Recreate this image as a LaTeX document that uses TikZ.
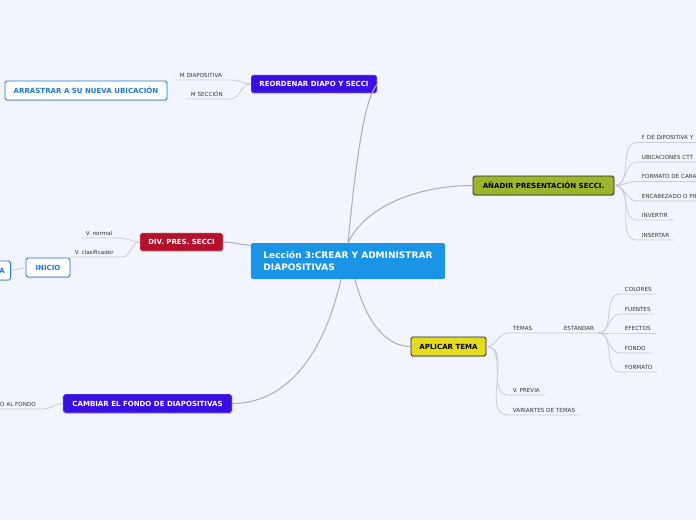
\documentclass[tikz,border=0pt]{standalone}
\usepackage{fontspec}
\setmainfont{DejaVu Sans}
\usetikzlibrary{shadows}
\definecolor{mmback}{HTML}{F2F5FD}
\definecolor{mmroot}{HTML}{1A95E6}
\definecolor{mmviolet}{HTML}{3A10E2}
\definecolor{mmred}{HTML}{B5102C}
\definecolor{mmolive}{HTML}{9DB52C}
\definecolor{mmyellow}{HTML}{E3DB1F}
\definecolor{mmblue}{HTML}{1F78DC}
\definecolor{mmline}{HTML}{ADB0BD}
\definecolor{mmsub}{HTML}{C9CCD6}
\tikzset{
  root/.style      ={fill=mmroot, text=white, rounded corners=2pt, align=left,
                     minimum width=5.82cm, minimum height=1.08cm, inner sep=0pt,
                     font=\fontsize{7.7pt}{10pt}\selectfont\bfseries},
  topic/.style     ={rounded corners=1.5pt, minimum height=0.55cm, inner sep=0pt,
                     font=\fontsize{6pt}{7pt}\selectfont\bfseries,
                     drop shadow={shadow xshift=0.3pt, shadow yshift=-0.9pt, opacity=0.3}},
  darktopic/.style ={topic, fill=#1, draw=black!12, text=white},
  lighttopic/.style={topic, fill=#1, draw=black!85, line width=0.7pt, text=black},
  outtopic/.style  ={topic, fill=white, draw=mmblue, line width=0.7pt, text=mmblue},
  leaf/.style      ={anchor=south west, inner xsep=4pt, inner ysep=2.2pt,
                     font=\fontsize{4.8pt}{5.5pt}\selectfont, text=black!80},
  branch/.style    ={draw=mmline, line width=0.9pt},
  twig/.style      ={draw=mmsub, line width=0.7pt},
}
\begin{document}
\begin{tikzpicture}[x=0.03cm, y=-0.03cm]
  \useasboundingbox (0,0) rectangle (696,520);
  \clip (0,0) rectangle (696,520);
  \fill[mmback] (0,0) rectangle (696,520);

  % root and main topics
  \node[root] (lec) at (348,261) {Lección 3:CREAR Y ADMINISTRAR\\DIAPOSITIVAS};
  \node[darktopic=mmviolet, minimum width=3.78cm] (reordenar) at (314,84) {REORDENAR DIAPO Y SECCI};
  \node[lighttopic=mmolive, minimum width=4.23cm, minimum height=0.57cm] (anadir) at (543.5,185.5) {AÑADIR PRESENTACIÓN SECCI.};
  \node[darktopic=mmred, minimum width=2.49cm] (div) at (181.5,242) {DIV. PRES. SECCI};
  \node[lighttopic=mmyellow, minimum width=2.25cm, minimum height=0.57cm] (aplicar) at (448.5,346.5) {APLICAR TEMA};
  \node[darktopic=mmviolet, minimum width=5.07cm, minimum height=0.57cm] (cambiar) at (147.5,403.5) {CAMBIAR EL FONDO DE DIAPOSITIVAS};

  \draw[branch] (lec.north) .. controls (356,160) and (364,100) .. (reordenar.east);
  \draw[branch] (lec.north) .. controls (366,205) and (420,185.5) .. (anadir.west);
  \draw[branch] (div.east) to[out=0,in=180] ([yshift=-2pt]lec.north west);
  \draw[branch] ([xshift=6pt]lec.south) .. controls (366,322) and (386,346.5) .. (aplicar.west);
  \draw[branch] ([xshift=-6pt]lec.south) .. controls (322,362) and (282,403.5) .. (cambiar.east);

  % reordenar
  \node[leaf] (mdia) at (175,80) {M DIAPOSITIVA};
  \node[leaf] (msec) at (186,99) {M SECCIÓN};
  \node[outtopic, minimum width=4.86cm, minimum height=0.57cm] (arrastrar) at (86,90.5) {ARRASTRAR A SU NUEVA UBICACIÓN};
  \draw[twig] (mdia.south west) -- ++(57,0) to[out=0,in=180] (reordenar.west);
  \draw[twig] (msec.south west) -- ++(44,0) to[out=0,in=180] (reordenar.west);

  % anadir
  \foreach \n/\y/\l/\t in {fd/142.5/80/F DE DIPOSITIVA Y, ub/162/80/UBICACIONES CTT,
      fc/181.5/80/FORMATO DE CARA, ep/201/80/ENCABEZADO O PIE,
      inv/220/37/INVERTIR, ins/240/37/INSERTAR} {
    \node[leaf] (\n) at (637,\y) {\t};
    \draw[twig] (anadir.east) to[out=0,in=180] (\n.south west) -- ++(\l,0);
  }

  % div
  \node[leaf] (vnorm) at (81,238) {V. normal};
  \node[leaf] (vclas) at (70,257) {V. clasificador};
  \node[outtopic, minimum width=1.32cm, minimum height=0.57cm] (inicio) at (48,267.5) {INICIO};
  \node[outtopic, minimum height=0.57cm, inner xsep=5pt, anchor=east] (abox) at (11,270.5) {A};
  \draw[twig] (vnorm.south west) -- ++(39,0) to[out=0,in=180] (div.west);
  \draw[twig] (inicio.north east) -- (vclas.south west) -- ++(52,0) to[out=0,in=180] (div.west);
  \draw[twig] (abox.east) -- (inicio.west);

  % aplicar
  \node[leaf] (temas) at (508,333) {TEMAS};
  \node[leaf] (estandar) at (559,333) {ESTÁNDAR};
  \node[leaf] (vprev) at (508,395) {V. PREVIA};
  \node[leaf] (variantes) at (508,415) {VARIANTES DE TEMAS};
  \draw[twig] (aplicar.east) to[out=0,in=180] (temas.south west) -- (estandar.south west) -- ++(39,0) coordinate (estend);
  \draw[twig] (aplicar.east) to[out=0,in=180] (vprev.south west) -- ++(37,0);
  \draw[twig] (aplicar.east) to[out=0,in=180] (variantes.south west) -- ++(72,0);
  \draw[branch, line width=0.8pt] (estend) -- ++(10,0);
  \foreach \n/\y/\l/\t in {col/294/36/COLORES, fue/314/34/FUENTES, efe/333/36/EFECTOS,
      fon/353/31/FONDO, form/372/37/FORMATO} {
    \node[leaf] (\n) at (620,\y) {\t};
    \draw[twig] (estend) to[out=0,in=180] (\n.south west) -- ++(\l,0);
  }

  % cambiar
  \node[leaf, inner xsep=0pt] (alfondo) at (0,409) {O AL FONDO};
  \draw[twig] (alfondo.south west) -- ++(43,0) to[out=0,in=180] (cambiar.west);
\end{tikzpicture}
\end{document}
